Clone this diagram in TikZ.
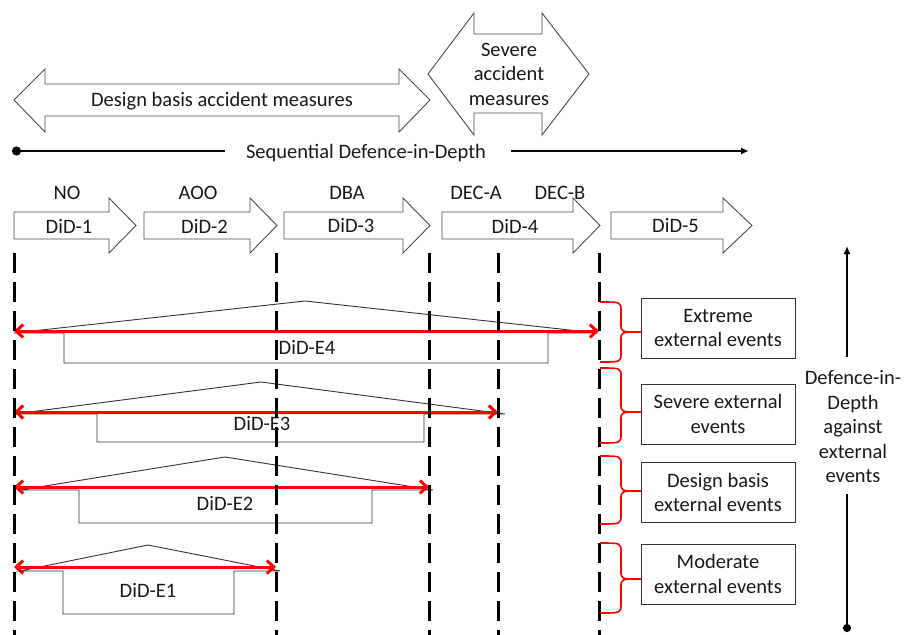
\documentclass[tikz,border=0pt]{standalone}
\usepackage{fontspec}
\setmainfont{Carlito}
\usetikzlibrary{arrows.meta,calc}

% block arrow pointing right: start x, head base x, tip x, node name, label
\newcommand\phasearrow[5]{%
  \draw[blockarrow] (#1,212) -- (#2,212) -- (#2,198) -- (#3,225.5) -- (#2,253)
    -- (#2,239) -- (#1,239) -- cycle;
  \node (#4) at ({(#1+#3)/2-6},226) {#5};
}
% curly bracket from the phase line to an event box: top y, tip y, bottom y, box
\newcommand\eventbrace[4]{%
  \draw[bracket] (600,#1) .. controls (621,#1) .. (621,{#1+9}) -- (621,{#2-8})
    .. controls (621,#2) .. (#4.west |- 0,#2);
  \draw[bracket] (#4.west |- 0,#2) .. controls (621,#2) .. (621,{#2+8})
    -- (621,{#3-9}) .. controls (621,#3) .. (600,#3);
}

\begin{document}
\begin{tikzpicture}[x=1pt,y=-1pt,
  every node/.style={font=\fontsize{20.5}{24.5}\selectfont, text=black!90, inner sep=0pt},
  blockarrow/.style={draw=black!70, line width=0.9pt, fill=white, line join=miter},
  phase/.style={draw=black, line width=3pt, dash pattern=on 20pt off 9pt},
  house/.style={draw=black!80, line width=0.9pt},
  span/.style={draw=red, line width=3pt,
    {Straight Barb[length=7pt,width=13pt]}-{Straight Barb[length=7pt,width=13pt]}},
  bracket/.style={draw=red, line width=1.6pt},
  eventbox/.style={draw=black!80, line width=1pt, minimum width=154pt,
    minimum height=60pt, align=center},
  axis/.style={draw=black, line width=2.4pt},
]
\useasboundingbox (0,0) rectangle (914,635);

% --- measures ---
\draw[blockarrow] (14,100) -- (45,69) -- (45,84) -- (399,84) -- (399,69) -- (430,100)
  -- (399,132) -- (399,116) -- (45,116) -- (45,132) -- cycle;
\node (dbam) at (222,101) {Design basis accident measures};
\draw[blockarrow] (428,74) -- (474,13) -- (474,34) -- (542,34) -- (542,13) -- (589,74)
  -- (542,135) -- (542,113) -- (474,113) -- (474,135) -- cycle;
\node[align=center] (sam) at (509,74) {Severe\\accident\\measures};

% --- sequential defence-in-depth axis ---
\coordinate (s0) at (12,151);
\coordinate (s1) at (225,151);
\coordinate (s2) at (511,151);
\coordinate (s3) at (749,151);
\node (seq) at (366,153) {Sequential Defence-in-Depth};
\draw[axis, {Circle[length=9pt]}-] (s0) -- (s1);
\draw[axis, -{Latex[length=8pt,width=7pt]}] (s2) -- (s3);

% --- plant states and levels ---
\node (no)   at (67,193)  {NO};
\node (aoo)  at (198,193) {AOO};
\node (dba)  at (347,193) {DBA};
\node (deca) at (476,193) {DEC-A};
\node (decb) at (560,193) {DEC-B};
\phasearrow{14}{109}{136}{did1}{DiD-1}
\phasearrow{144}{250}{277}{did2}{DiD-2}
\phasearrow{284}{403}{430}{did3}{DiD-3}
\phasearrow{442}{573}{600}{did4}{DiD-4}
\phasearrow{611}{723}{752}{did5}{DiD-5}

% --- external event levels (houses) ---
\draw[house] (14,333) -- (305,301) -- (597,333) -- (548,333) -- (548,363) -- (64,363)
  -- (64,333) -- cycle;
\node (e4) at (307,347) {DiD-E4};
\draw[house] (14,414) -- (261,382) -- (505,414) -- (424,414) -- (424,442) -- (97,442)
  -- (97,414) -- cycle;
\node (e3) at (262,424) {DiD-E3};
\draw[house] (20,490) -- (225,457) -- (433,490) -- (372,490) -- (372,523) -- (79,523)
  -- (79,490) -- cycle;
\node (e2) at (225,503) {DiD-E2};
\draw[house] (20,571) -- (148,545) -- (280,571) -- (234,571) -- (234,614) -- (63,614)
  -- (63,571) -- cycle;
\node (e1) at (148,590) {DiD-E1};

% red spans
\coordinate (e4l) at (14,331);  \coordinate (e4r) at (599,331);
\coordinate (e3l) at (14,412);  \coordinate (e3r) at (498,412);
\coordinate (e2l) at (14,487);  \coordinate (e2r) at (429,487);
\coordinate (e1l) at (14,567);  \coordinate (e1r) at (276,567);
\draw[span] (e4l) -- (e4r);
\draw[span] (e3l) -- (e3r);
\draw[span] (e2l) -- (e2r);
\draw[span] (e1l) -- (e1r);

% phase boundaries
\foreach \x/\n in {14/pa,276/pb,429/pc,498/pd,599/pe}{
  \coordinate (\n t) at (\x,253);
  \coordinate (\n b) at (\x,640);
  \draw[phase] (\n t) -- (\n b);
}

% --- external event categories ---
\node[eventbox] (ev1) at (718,328)   {Extreme\\external events};
\node[eventbox] (ev2) at (718,414)   {Severe external\\events};
\node[eventbox] (ev3) at (718,492.5) {Design basis\\external events};
\node[eventbox] (ev4) at (718,574)   {Moderate\\external events};
\eventbrace{302}{332}{362}{ev1}
\eventbrace{368}{412}{443}{ev2}
\eventbrace{456}{491}{524}{ev3}
\eventbrace{543}{579}{613}{ev4}

% --- defence-in-depth against external events axis ---
\node[align=center] (dide) at (853,427) {Defence-in-\\Depth\\against\\external\\events};
\coordinate (vt) at (847,246);
\coordinate (va) at (847,357);
\coordinate (vc) at (847,494);
\coordinate (vb) at (847,632);
\draw[axis, -{Latex[length=8pt,width=7pt]}] (va) -- (vt);
\draw[axis, -{Circle[length=8pt]}] (vc) -- (vb);
\end{tikzpicture}
\end{document}
